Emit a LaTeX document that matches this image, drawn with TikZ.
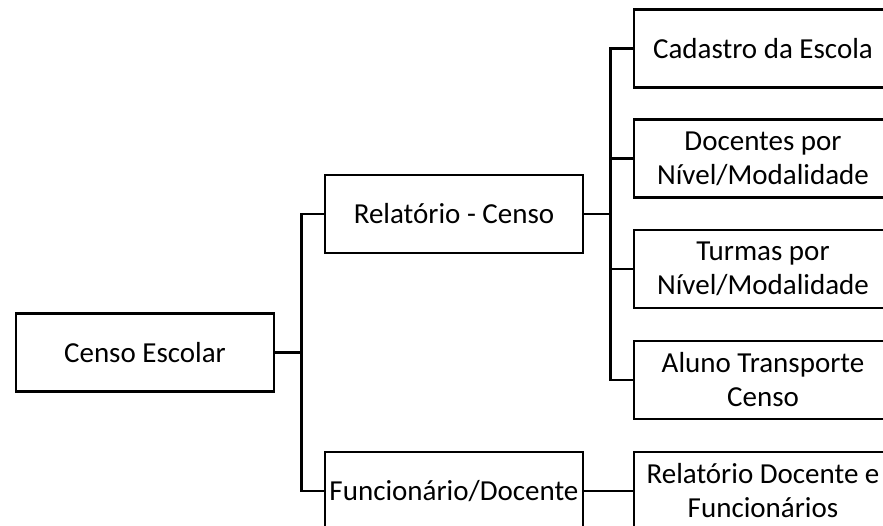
\documentclass[tikz,border=0pt]{standalone}
\usepackage{fontspec}
\setmainfont{Carlito}
\begin{document}
\begin{tikzpicture}[x=1pt, y=-1pt,
	box/.style={draw, line width=2.5pt, minimum width=258pt, minimum height=78pt, inner sep=0pt, align=center, font=\fontsize{29}{34}\selectfont},
	verb/.style={line width=2.5pt}]
	\useasboundingbox (0,0) rectangle (883,526);
	\clip (0,0) rectangle (883,526);%Bild rechts und unten abgeschnitten

	\node[box] (censo) at (145,352.5) {Censo Escolar};
	\node[box] (relat) at (454,214) {Relatório - Censo};
	\node[box] (func) at (454,491) {Funcionário/Docente};

	\node[box] (cad) at (763,48.5) {Cadastro da Escola};
	\node[box] (doc) at (763,158.5) {Docentes por\\Nível/Modalidade};
	\node[box] (turm) at (763,269) {Turmas por\\Nível/Modalidade};
	\node[box] (aluno) at (763,380) {Aluno Transporte\\Censo};
	\node[box] (reldoc) at (763,491) {Relatório Docente e\\Funcionários};

	\draw[verb] (censo.east) -- ++(26,0) |- (relat.west);%oberer Ast
	\draw[verb] (censo.east) -- ++(26,0) |- (func.west);%unterer Ast
	\foreach \n in {cad,doc,turm,aluno}
		\draw[verb] (relat.east) -- ++(26,0) |- (\n.west);
	\draw[verb] (func) -- (reldoc);
\end{tikzpicture}
\end{document}
